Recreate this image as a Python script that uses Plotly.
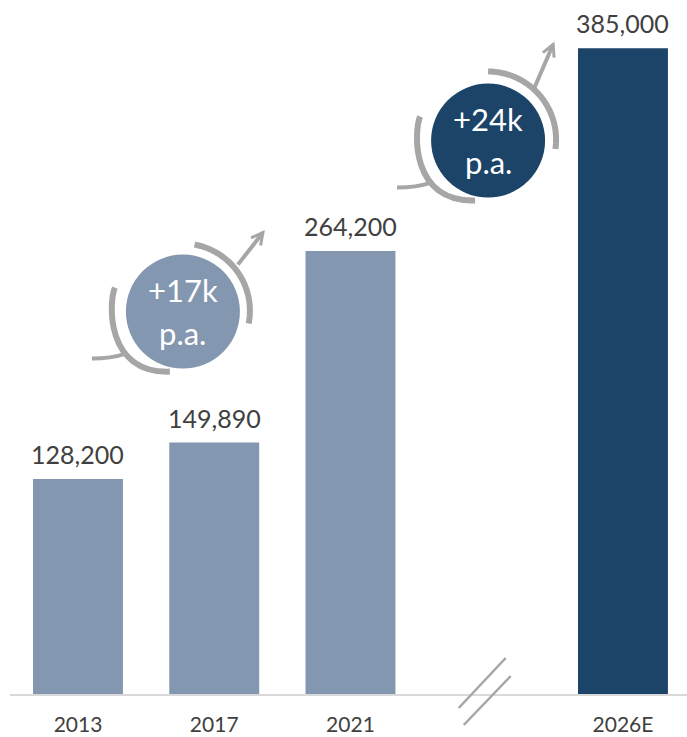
import math
import plotly.graph_objects as go

# ---- data ----
years = ["2013", "2017", "2021", "2026E"]
positions = [0, 1, 2, 4]          # slot 3 is left empty for the axis break
values = [128200, 149890, 264200, 385000]
bar_colors = ["#8497B0", "#8497B0", "#8497B0", "#1C4468"]

growth_labels = ["+17k", "+24k"]
growth_colors = ["#8497B0", "#1C4468"]
growth_anchor_x = [0.77, 3.01]          # in category units
growth_anchor_y = [228000, 330000]      # in value units

GREY = "#A6A6A6"
TEXT = "#404040"
FONT = "Lato"

XR = [-0.499, 4.47]
YR = [0, 413800]


def px(xd):
    return (xd - XR[0]) / (XR[1] - XR[0])


def py(yd):
    return (yd - YR[0]) / (YR[1] - YR[0])


def arc(cx, cy, r, a0, a1, n=40):
    pts = []
    for i in range(n + 1):
        a = math.radians(a0 + (a1 - a0) * i / n)
        pts.append((cx + r * math.cos(a), cy + r * math.sin(a)))
    return "M " + " L ".join(f"{x:.2f} {y:.2f}" for x, y in pts)


def arrow(x0, y0, x1, y1, head=13, spread=28):
    dx, dy = x1 - x0, y1 - y0
    L = math.hypot(dx, dy)
    ux, uy = dx / L, dy / L
    wings = []
    for s in (spread, -spread):
        a = math.radians(s)
        bx = -ux * math.cos(a) + uy * math.sin(a)
        by = -ux * math.sin(a) - uy * math.cos(a)
        wings.append((x1 + head * bx, y1 + head * by))
    shaft = f"M {x0} {y0} L {x1} {y1}"
    tip = (f"M {wings[0][0]:.2f} {wings[0][1]:.2f} L {x1} {y1} "
           f"L {wings[1][0]:.2f} {wings[1][1]:.2f}")
    return shaft, tip


fig = go.Figure()
fig.add_trace(go.Bar(
    x=positions, y=values, width=0.66,
    marker=dict(color=bar_colors, line=dict(width=0)),
    hoverinfo="skip",
))

annotations = []
# value labels above bars
for xv, v in zip(positions, values):
    annotations.append(dict(
        x=xv, y=v, xref="x", yref="y", text=f"{v:,}", showarrow=False,
        xanchor="center", yanchor="bottom", yshift=8,
        font=dict(family=FONT, size=25, color=TEXT),
    ))

shapes = []
arrow_specs = [((55, 47), (80, 79)), ((46, 52), (65, 96))]
upper_arcs = [arc(0, 1, 67, 80, -11), arc(0, 1, 68, 90, -8)]
lower_arc = "M -68 24 C -74 10, -78 -62, -13 -60"
tail = "M -57 -42 Q -72 -47 -91 -47"

for i, lab in enumerate(growth_labels):
    ax, ay = px(growth_anchor_x[i]), py(growth_anchor_y[i])
    common = dict(xref="paper", yref="paper", xsizemode="pixel", ysizemode="pixel",
                  xanchor=ax, yanchor=ay, layer="above")
    # surrounding arcs
    shapes.append(dict(type="path", path=upper_arcs[i],
                       line=dict(color=GREY, width=6), **common))
    shapes.append(dict(type="path", path=lower_arc,
                       line=dict(color=GREY, width=6), **common))
    # swoosh tail
    shapes.append(dict(type="path", path=tail,
                       line=dict(color=GREY, width=4), **common))
    # arrow out of the upper arc
    (x0, y0), (x1, y1) = arrow_specs[i]
    shaft, tip = arrow(x0, y0, x1, y1)
    shapes.append(dict(type="path", path=shaft, line=dict(color=GREY, width=4), **common))
    shapes.append(dict(type="path", path=tip, line=dict(color=GREY, width=3), **common))
    # filled disc
    shapes.append(dict(type="circle", x0=-57, x1=57, y0=-57, y1=57,
                       fillcolor=growth_colors[i], line=dict(width=0), **common))
    annotations.append(dict(x=ax, y=ay, xref="paper", yref="paper", text=lab,
                            showarrow=False, xanchor="center", yanchor="middle",
                            yshift=22,
                            font=dict(family=FONT, size=31, color="white")))
    annotations.append(dict(x=ax, y=ay, xref="paper", yref="paper", text="p.a.",
                            showarrow=False, xanchor="center", yanchor="middle",
                            yshift=-21,
                            font=dict(family=FONT, size=31, color="white")))

# axis break marks in the empty slot
brk = dict(xref="paper", yref="paper", xsizemode="pixel", ysizemode="pixel",
           xanchor=px(3), yanchor=py(0), layer="above")
shapes.append(dict(type="line", x0=-28, y0=-14, x1=19, y1=36,
                   line=dict(color=GREY, width=2.5), **brk))
shapes.append(dict(type="line", x0=-23, y0=-31, x1=24, y1=18,
                   line=dict(color=GREY, width=2.5), **brk))

fig.update_layout(
    width=687, height=737,
    margin=dict(l=10, r=0, t=0, b=43),
    plot_bgcolor="white", paper_bgcolor="white",
    showlegend=False,
    font=dict(family=FONT, color=TEXT),
    xaxis=dict(range=XR, tickvals=positions, ticktext=years,
               showgrid=False, zeroline=False, showline=True,
               linecolor="#D9D9D9", linewidth=2, ticks="",
               tickfont=dict(family=FONT, size=21, color=TEXT),
               ticklabelstandoff=11, automargin=False, fixedrange=True),
    yaxis=dict(range=YR, visible=False, showgrid=False, zeroline=False,
               automargin=False, fixedrange=True),
    shapes=shapes,
    annotations=annotations,
)

fig.write_html("out.html")
